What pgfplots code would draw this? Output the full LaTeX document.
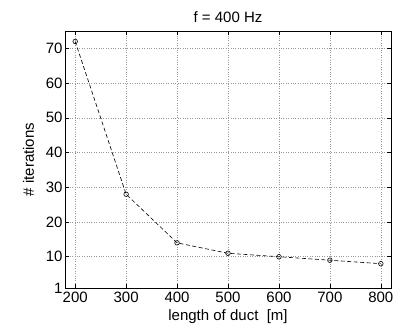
\documentclass[border=0pt]{standalone}
\usepackage{pgfplots}
\pgfplotsset{compat=1.18}
\usepackage{fontspec}
\setmainfont{Liberation Sans}
\begin{document}
\begin{tikzpicture}[x=1pt,y=1pt]
\path[use as bounding box] (0,0) rectangle (417,329);
\begin{axis}[
  at={(65pt,41pt)}, anchor=south west,
  scale only axis, width=326pt, height=257pt,
  xmin=180, xmax=820, ymin=1, ymax=75,
  xtick={200,300,400,500,600,700,800},
  ytick={1,10,20,30,40,50,60,70},
  tick align=inside, major tick length=4pt,
  xtick pos=both, ytick pos=both,
  grid=major,
  major grid style={dotted, gray!80, line width=0.5pt},
  axis line style={line width=0.9pt},
  tick style={black, line width=0.5pt},
  /pgf/number format/assume math mode=true,
  ticklabel style={font=\fontsize{15}{17}\selectfont},
  yticklabel style={xshift=1pt},
  label style={font=\fontsize{15}{17}\selectfont},
  title style={font=\fontsize{15}{17}\selectfont, yshift=-1pt},
  title={f = 400 Hz},
  xlabel={length of duct\ \ [m]},
  ylabel={\# iterations},
  xlabel style={yshift=-1pt},
  ylabel style={yshift=5pt},
]
\addplot[black, dash pattern=on 4pt off 2.5pt, line width=0.6pt, mark=o, mark size=2.3pt, mark options={solid, line width=0.6pt}]
coordinates {(200,72) (300,28) (400,14) (500,11) (600,10) (700,9) (800,8)};
\end{axis}
\end{tikzpicture}
\end{document}
